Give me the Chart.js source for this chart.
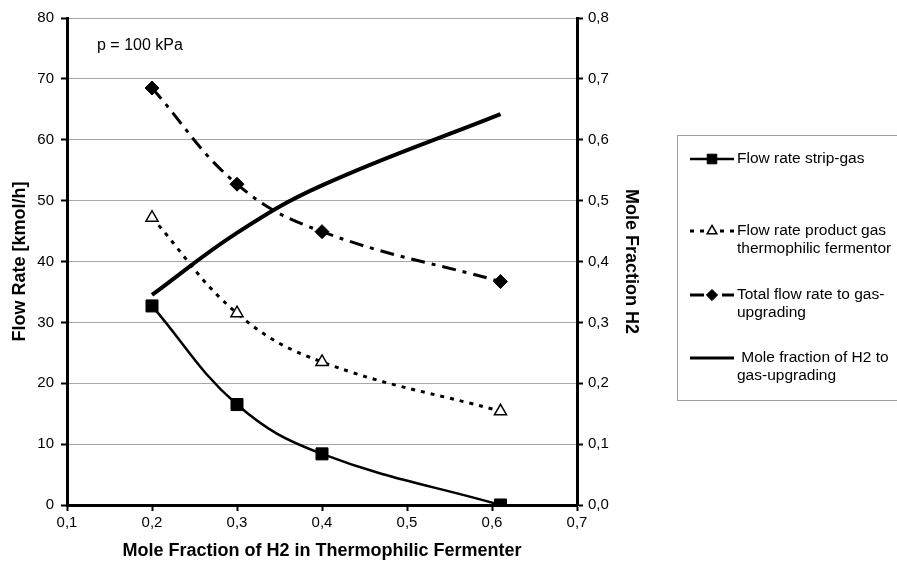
<!DOCTYPE html>
<html>
<head>
<meta charset="utf-8">
<script src="https://cdn.jsdelivr.net/npm/chart.js@4"></script>
<style>
  html, body { margin: 0; padding: 0; background: #fff; }
  #wrap { width: 897px; height: 566px; }
</style>
</head>
<body>
<div id="wrap"><canvas id="chart" width="897" height="566"></canvas></div>
<script>
// data
const moleFractionFermenter = [0.2, 0.3, 0.4, 0.61];
const flowStripGas = [32.7, 16.5, 8.4, 0];
const flowProductGas = [47.2, 31.5, 23.5, 15.4];
const flowTotal = [68.5, 52.7, 44.9, 36.7];
const moleFractionUpgrading = [0.345, 0.447, 0.525, 0.642];

const seriesLabels = [
  ['Flow rate strip-gas'],
  ['Flow rate product gas', 'thermophilic fermentor'],
  ['Total flow rate to gas-', 'upgrading'],
  [' Mole fraction of H2 to', 'gas-upgrading']
];
const noteText = 'p = 100 kPa';

const FONT = '"Liberation Sans", Arial, sans-serif';
const pts = (ys) => moleFractionFermenter.map((x, i) => ({ x: x, y: ys[i] }));
const comma = (v) => Number(v).toFixed(1).replace('.', ',');

// легенда и подпись рисуются вручную
const extras = {
  id: 'extras',
  afterDraw(chart) {
    const ctx = chart.ctx;
    ctx.save();
    ctx.font = '16px ' + FONT;
    ctx.fillStyle = '#000';
    ctx.textBaseline = 'middle';
    ctx.fillText(noteText, 97, 46);

    // рамка легенды
    ctx.strokeStyle = '#a0a0a0';
    ctx.lineWidth = 1;
    ctx.strokeRect(677.5, 135.5, 240, 265);

    const rows = [159, 231, 295, 358];
    chart.data.datasets.forEach((ds, i) => {
      const y = rows[i];
      ctx.save();
      ctx.strokeStyle = '#000';
      ctx.lineWidth = Math.min(ds.borderWidth, 3);
      ctx.setLineDash(ds.borderDash || []);
      ctx.beginPath();
      ctx.moveTo(690, y);
      ctx.lineTo(734, y);
      ctx.stroke();
      ctx.restore();
      if (ds.pointRadius > 0) {
        ctx.save();
        ctx.fillStyle = ds.pointBackgroundColor;
        ctx.strokeStyle = '#000';
        ctx.lineWidth = ds.pointBorderWidth;
        Chart.helpers.drawPoint(ctx, {
          pointStyle: ds.pointStyle,
          radius: ds.pointRadius * 0.8,
          rotation: 0,
          borderWidth: ds.pointBorderWidth
        }, 712, y);
        ctx.restore();
      }
      ctx.fillStyle = '#000';
      ctx.font = '15.5px ' + FONT;
      seriesLabels[i].forEach((line, k) => ctx.fillText(line, 737, y + k * 18));
    });
    ctx.restore();
  }
};

new Chart(document.getElementById('chart'), {
  type: 'line',
  data: {
    datasets: [
      {
        label: seriesLabels[0].join(' '),
        data: pts(flowStripGas),
        yAxisID: 'y',
        borderColor: '#000',
        borderWidth: 2.5,
        tension: 0.4,
        pointStyle: 'rect',
        pointRadius: 8.5,
        pointBackgroundColor: '#000',
        pointBorderColor: '#000',
        pointBorderWidth: 1
      },
      {
        label: seriesLabels[1].join(' '),
        data: pts(flowProductGas),
        yAxisID: 'y',
        borderColor: '#000',
        borderWidth: 3,
        borderDash: [4, 6],
        tension: 0.4,
        pointStyle: 'triangle',
        pointRadius: 7,
        pointBackgroundColor: '#fff',
        pointBorderColor: '#000',
        pointBorderWidth: 1.5
      },
      {
        label: seriesLabels[2].join(' '),
        data: pts(flowTotal),
        yAxisID: 'y',
        borderColor: '#000',
        borderWidth: 3,
        borderDash: [14, 7, 4, 7],
        tension: 0.4,
        pointStyle: 'rectRot',
        pointRadius: 7,
        pointBackgroundColor: '#000',
        pointBorderColor: '#000',
        pointBorderWidth: 1
      },
      {
        label: seriesLabels[3].join(' '),
        data: pts(moleFractionUpgrading),
        yAxisID: 'y1',
        borderColor: '#000',
        borderWidth: 4,
        tension: 0.4,
        pointRadius: 0
      }
    ]
  },
  options: {
    responsive: false,
    animation: false,
    layout: { padding: { left: 0, right: 255, top: 18, bottom: 0 } },
    plugins: { legend: { display: false }, tooltip: { enabled: false } },
    scales: {
      x: {
        type: 'linear',
        min: 0.1, max: 0.7,
        afterFit: (s) => { s.height = 61; },
        ticks: { stepSize: 0.1, callback: comma, color: '#000', font: { family: FONT, size: 15 }, padding: 3, maxRotation: 0 },
        grid: { drawOnChartArea: false, tickColor: '#000', tickLength: 6, tickWidth: 2 },
        border: { color: '#000', width: 3 },
        title: { display: true, text: 'Mole Fraction of H2 in Thermophilic Fermenter', color: '#000',
                 font: { family: FONT, size: 18, weight: 'bold' }, padding: { top: 0, bottom: 4 } }
      },
      y: {
        position: 'left',
        min: 0, max: 80,
        afterFit: (s) => { s.width = 67; },
        ticks: { stepSize: 10, color: '#000', font: { family: FONT, size: 15 }, padding: 7 },
        grid: { color: '#a6a6a6', lineWidth: 1, tickColor: '#000', tickLength: 6, tickWidth: 2 },
        border: { color: '#000', width: 3 },
        title: { display: true, text: 'Flow Rate [kmol/h]', color: '#000',
                 font: { family: FONT, size: 18, weight: 'bold' }, padding: { top: 9, bottom: 0 } }
      },
      y1: {
        position: 'right',
        min: 0, max: 0.8,
        afterFit: (s) => { s.width = 65; },
        ticks: { stepSize: 0.1, callback: comma, color: '#000', font: { family: FONT, size: 15 }, padding: 5 },
        grid: { drawOnChartArea: false, tickColor: '#000', tickLength: 6, tickWidth: 2 },
        border: { color: '#000', width: 3 },
        title: { display: true, text: 'Mole Fraction H2', color: '#000',
                 font: { family: FONT, size: 18, weight: 'bold' }, padding: { top: 0, bottom: 0 } }
      }
    }
  },
  plugins: [extras]
});
</script>
</body>
</html>
